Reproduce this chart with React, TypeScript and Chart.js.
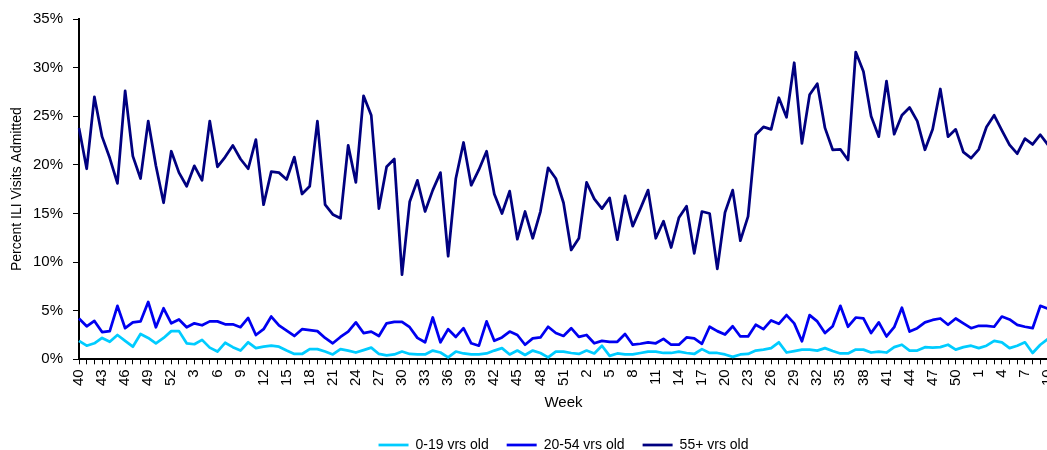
import { useEffect, useRef } from 'react';
import { Chart, registerables } from 'chart.js';

Chart.register(...registerables);

// week numbers, four seasons running into each other
const weeks = [
  40, 41, 42, 43, 44, 45, 46, 47, 48, 49, 50, 51, 52,
  1, 2, 3, 4, 5, 6, 7, 8, 9, 10, 11, 12, 13, 14, 15, 16, 17, 18, 19, 20, 21, 22, 23, 24, 25, 26,
  27, 28, 29, 30, 31, 32, 33, 34, 35, 36, 37, 38, 39, 40, 41, 42, 43, 44, 45, 46, 47, 48, 49, 50, 51, 52,
  1, 2, 3, 4, 5, 6, 7, 8, 9, 10, 11, 12, 13, 14, 15, 16, 17, 18, 19, 20, 21, 22, 23, 24, 25, 26,
  27, 28, 29, 30, 31, 32, 33, 34, 35, 36, 37, 38, 39, 40, 41, 42, 43, 44, 45, 46, 47, 48, 49, 50, 51, 52,
  1, 2, 3, 4, 5, 6, 7, 8, 9, 10,
];

const age0to19 = [
  1.9, 1.4, 1.65, 2.2, 1.8, 2.5, 1.9, 1.3, 2.6, 2.2, 1.65, 2.2, 2.9, 2.9, 1.65, 1.55, 2.0, 1.2, 0.8, 1.7,
  1.25, 0.9, 1.75, 1.15, 1.3, 1.4, 1.3, 0.9, 0.55, 0.55, 1.05, 1.05, 0.8, 0.5, 1.05, 0.9, 0.7, 0.95, 1.2, 0.55,
  0.4, 0.5, 0.8, 0.55, 0.5, 0.5, 0.9, 0.7, 0.2, 0.8, 0.6, 0.5, 0.5, 0.6, 0.9, 1.15, 0.5, 0.9, 0.45, 0.9,
  0.65, 0.2, 0.8, 0.8, 0.65, 0.55, 0.9, 0.6, 1.4, 0.35, 0.6, 0.5, 0.5, 0.65, 0.8, 0.8, 0.65, 0.65, 0.8, 0.65,
  0.55, 1.05, 0.65, 0.65, 0.5, 0.25, 0.5, 0.55, 0.9, 1.0, 1.15, 1.75, 0.7, 0.85, 1.0, 1.0, 0.9, 1.15, 0.85, 0.6,
  0.6, 1.0, 1.0, 0.7, 0.8, 0.7, 1.25, 1.5, 0.9, 0.9, 1.25, 1.2, 1.25, 1.5, 1.0, 1.25, 1.4, 1.15, 1.4, 1.9,
  1.75, 1.15, 1.4, 1.75, 0.65, 1.5, 2.1,
];

const age20to54 = [
  4.2, 3.4, 3.95, 2.8, 2.9, 5.5, 3.2, 3.8, 3.9, 5.9, 3.3, 5.25, 3.7, 4.1, 3.3, 3.7, 3.5, 3.9, 3.9, 3.6,
  3.6, 3.3, 4.25, 2.5, 3.1, 4.4, 3.5, 2.95, 2.4, 3.1, 3.0, 2.9, 2.2, 1.65, 2.3, 2.85, 3.8, 2.7, 2.85, 2.4,
  3.7, 3.85, 3.85, 3.3, 2.2, 1.75, 4.3, 1.75, 3.1, 2.3, 3.2, 1.65, 1.4, 3.9, 1.9, 2.25, 2.85, 2.5, 1.5, 2.15,
  2.25, 3.35, 2.7, 2.4, 3.2, 2.3, 2.5, 1.65, 1.9, 1.8, 1.8, 2.6, 1.5, 1.6, 1.75, 1.65, 2.1, 1.5, 1.5, 2.25,
  2.15, 1.6, 3.35, 2.9, 2.55, 3.4, 2.35, 2.35, 3.55, 3.1, 4.0, 3.65, 4.55, 3.7, 1.85, 4.55, 3.9, 2.7, 3.4, 5.5,
  3.35, 4.3, 4.2, 2.7, 3.8, 2.35, 3.3, 5.3, 2.85, 3.2, 3.8, 4.05, 4.2, 3.55, 4.2, 3.7, 3.2, 3.45, 3.45, 3.35,
  4.4, 4.1, 3.55, 3.35, 3.2, 5.5, 5.2,
];

const age55plus = [
  23.8, 19.6, 27.0, 22.9, 20.7, 18.1, 27.6, 20.9, 18.6, 24.5, 19.9, 16.1, 21.4, 19.2, 17.8, 19.9, 18.4, 24.5, 19.8, 20.8,
  22.0, 20.6, 19.6, 22.6, 15.9, 19.3, 19.2, 18.5, 20.8, 17.0, 17.8, 24.5, 15.9, 14.9, 14.5, 22.0, 18.2, 27.1, 25.1, 15.5,
  19.8, 20.6, 8.7, 16.2, 18.4, 15.2, 17.4, 19.2, 10.6, 18.6, 22.3, 17.9, 19.5, 21.4, 17.0, 15.0, 17.3, 12.35, 15.2, 12.45,
  15.2, 19.7, 18.6, 16.1, 11.25, 12.45, 18.2, 16.5, 15.5, 16.6, 12.3, 16.8, 13.7, 15.5, 17.4, 12.45, 14.2, 11.5, 14.55, 15.75,
  10.9, 15.2, 15.0, 9.3, 15.1, 17.4, 12.2, 14.7, 23.1, 23.9, 23.65, 26.9, 24.9, 30.5, 22.2, 27.2, 28.35, 23.8, 21.55, 21.6,
  20.5, 31.6, 29.6, 25.0, 22.9, 28.6, 23.15, 25.1, 25.9, 24.5, 21.55, 23.65, 27.8, 22.9, 23.65, 21.3, 20.7, 21.6, 23.9, 25.1,
  23.55, 22.05, 21.15, 22.7, 22.1, 23.1, 22.05,
];

const FONT = "'Liberation Sans', Arial, sans-serif";

export default function App() {
  const chartRef = useRef<HTMLCanvasElement | null>(null);

  useEffect(() => {
    if (!chartRef.current) return;
    const ctx = chartRef.current.getContext('2d');
    if (!ctx) return;

    const tickFont = { family: FONT, size: 15 };

    const chart = new Chart(ctx, {
      type: 'line',
      data: {
        labels: weeks.map(String),
        datasets: [
          { label: '0-19 vrs old', data: age0to19, borderColor: '#00CCFF', backgroundColor: '#00CCFF', borderWidth: 2.75 },
          { label: '20-54 vrs old', data: age20to54, borderColor: '#0000F0', backgroundColor: '#0000F0', borderWidth: 2.75 },
          { label: '55+ vrs old', data: age55plus, borderColor: '#000080', backgroundColor: '#000080', borderWidth: 2.75 },
        ],
      },
      options: {
        animation: false,
        responsive: true,
        maintainAspectRatio: false,
        layout: { padding: { top: 17, left: 0, right: 0, bottom: 0 } },
        elements: {
          point: { radius: 0, hoverRadius: 0 },
          line: { tension: 0, borderJoinStyle: 'round' },
        },
        plugins: {
          tooltip: { enabled: false },
          legend: {
            position: 'bottom',
            fullSize: false,
            labels: {
              usePointStyle: true,
              pointStyle: 'line',
              pointStyleWidth: 30,
              padding: 18,
              color: '#000',
              font: { family: FONT, size: 14 },
            },
          },
        },
        scales: {
          x: {
            offset: false,
            grid: { drawOnChartArea: false, drawTicks: true, tickLength: 5, color: '#000', offset: false },
            border: { display: true, color: '#000', width: 2 },
            ticks: {
              autoSkip: false,
              maxRotation: 90,
              minRotation: 90,
              padding: 5,
              color: '#000',
              font: tickFont,
              callback: (_v, i) => (i % 3 === 0 ? String(weeks[i]) : ''),
            },
            title: { display: true, text: 'Week', color: '#000', font: tickFont, padding: { top: 3, bottom: 8 } },
          },
          y: {
            min: 0,
            max: 35,
            afterFit: (scale) => {
              scale.width = 79;
            },
            grid: { drawOnChartArea: false, tickLength: 6, color: '#000' },
            border: { display: true, color: '#000', width: 2 },
            ticks: { stepSize: 5, padding: 10, color: '#000', font: tickFont, callback: (v) => v + '%' },
            title: {
              display: true,
              text: 'Percent ILI Visits Admitted',
              color: '#000',
              font: { family: FONT, size: 14 },
              padding: { top: 9, bottom: 0 },
            },
          },
        },
      },
    });

    return () => {
      chart.destroy();
    };
  }, []);

  return (
    <div style={{ position: 'fixed', left: 0, top: 0, width: '100vw', height: '100vh', overflow: 'hidden', background: '#fff' }}>
      <div style={{ position: 'absolute', left: 0, top: 0, width: 1071, height: 462 }}>
        <canvas ref={chartRef}></canvas>
      </div>
    </div>
  );
}
